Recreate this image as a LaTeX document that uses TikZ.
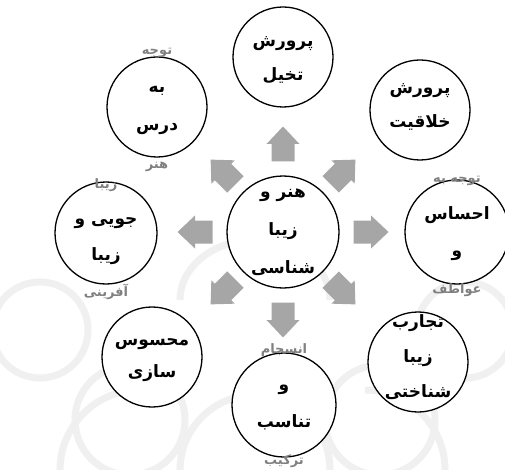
\documentclass[tikz,border=0pt]{standalone}
\usepackage{fontspec}
\TeXXeTstate=1
\newfontfamily\arabicfont[Script=Arabic]{DejaVu Sans}
\newcommand\pers[1]{{\arabicfont\bfseries\beginR #1\endR}}
\newcommand\outl[1]{{\color{black!50}\fontsize{13}{13}\selectfont\pers{#1}}}
\definecolor{arrowgray}{RGB}{166,166,166}
\definecolor{wmark}{RGB}{240,240,240}
\begin{document}
\begin{tikzpicture}[x=1pt,y=-1pt,
  bubble/.style={circle, draw=black, line width=1.3pt, fill=white, minimum size=100pt, inner sep=0pt},
  txt/.style={align=center, inner sep=0pt},
  blockarrow/.pic={\fill[arrowgray] (-17.5,-11.5) -- (0,-11.5) -- (0,-16.5) -- (17.5,0) -- (0,16.5) -- (0,11.5) -- (-17.5,11.5) -- cycle;}]
\useasboundingbox (0,0) rectangle (505,470);
\fill[white] (0,0) rectangle (505,470);
% faint watermark
\begin{scope}[draw=wmark, line width=7pt]
  \draw (40,330) circle (48);
  \draw (130,420) circle (55);
  \draw (380,420) circle (55);
  \draw (465,330) circle (48);
  \draw (255,470) circle (75);
  \draw (180,300) arc (180:360:75 and 60);
  \draw (60,470) arc (180:270:80);
  \draw (445,470) arc (0:-90:80);
\end{scope}
% circles
\node[bubble, minimum size=112pt] (c0) at (283,232) {};
\node[bubble] (c1) at (283,57) {};
\node[bubble] (c2) at (420,110) {};
\node[bubble, minimum size=104pt] (c3) at (457,232) {};
\node[bubble] (c4) at (418,362) {};
\node[bubble, minimum size=104pt] (c5) at (284,405) {};
\node[bubble] (c6) at (152,357) {};
\node[bubble, minimum size=102pt] (c7) at (106,233) {};
\node[bubble] (c8) at (157,107) {};
% texts
\node[txt, font=\fontsize{17}{38}\selectfont] (t0) at (283,232) {\pers{هنر و}\\\pers{زیبا}\\\pers{شناسی}};
\node[txt, font=\fontsize{17}{34}\selectfont] (t1) at (283,60) {\pers{پرورش}\\\pers{تخیل}};
\node[txt, font=\fontsize{17}{34}\selectfont] (t2) at (420,107) {\pers{پرورش}\\\pers{خلاقیت}};
\node[txt, font=\fontsize{17}{37}\selectfont] (t3) at (457,236) {\outl{توجه به}\\\pers{احساس}\\\pers{و}\\\outl{عواطف}};
\node[txt, font=\fontsize{17}{35}\selectfont] (t4) at (418,357) {\pers{تجارب}\\\pers{زیبا}\\\pers{شناختی}};
\node[txt, font=\fontsize{17}{37}\selectfont] (t5) at (284,406) {\outl{انسجام}\\\pers{و}\\\pers{تناسب}\\\outl{ترکیب}};
\node[txt, font=\fontsize{17}{32}\selectfont] (t6) at (152,360) {\pers{محسوس}\\\pers{سازی}};
\node[txt, font=\fontsize{17}{36}\selectfont] (t7) at (106,239) {\outl{زیبا}\\\pers{جویی و}\\\pers{زیبا}\\\outl{آفرینی}};
\node[txt, font=\fontsize{17}{38}\selectfont] (t8) at (157,110) {\outl{توجه}\\\pers{به}\\\pers{درس}\\\outl{هنر}};
% arrows
\pic[rotate=90]   at (283,144) {blockarrow};
\pic[rotate=45]   at (343,172) {blockarrow};
\pic[rotate=0]    at (371,232) {blockarrow};
\pic[rotate=-45]  at (343,292) {blockarrow};
\pic[rotate=-90]  at (283,320) {blockarrow};
\pic[rotate=-135] at (223,292) {blockarrow};
\pic[rotate=180]  at (195,232) {blockarrow};
\pic[rotate=135]  at (223,172) {blockarrow};
\end{tikzpicture}
\end{document}
